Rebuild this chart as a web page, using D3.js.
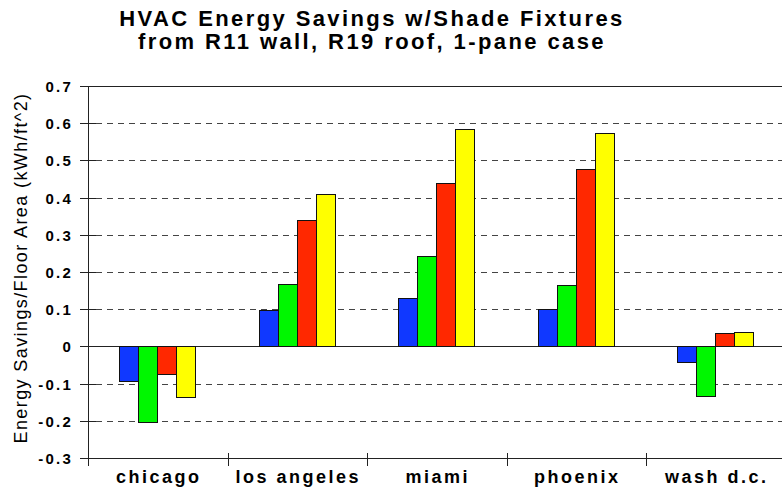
<!DOCTYPE html>
<meta charset="utf-8">
<style>
body { margin: 0; background: #fff; }
svg text { font-family: "Liberation Sans", Arial, sans-serif; fill: #000; }
.title { font-size: 22px; font-weight: bold; letter-spacing: 2.4px; }
.tick-label { font-size: 15px; font-weight: bold; letter-spacing: 2.2px; }
.cat-label { font-size: 18px; font-weight: bold; letter-spacing: 2.5px; }
.y-title { font-size: 18px; letter-spacing: 1.4px; }
.grid { stroke: #444; stroke-width: 1; stroke-dasharray: 6,5; shape-rendering: crispEdges; }
.axisline { stroke: #222; stroke-width: 1; shape-rendering: crispEdges; }
.bar { stroke: #111; stroke-width: 1; shape-rendering: crispEdges; }
</style>
<body>
<div id="chart"></div>
<script src="https://d3js.org/d3.v7.min.js"></script>
<script>

// data
var cities = ["chicago", "los angeles", "miami", "phoenix", "wash d.c."];
var series = ["s1", "s2", "s3", "s4"];
var s1 = [-0.095, 0.097, 0.128, 0.100, -0.044];
var s2 = [-0.205, 0.167, 0.242, 0.164, -0.134];
var s3 = [-0.075, 0.339, 0.439, 0.476, 0.034];
var s4 = [-0.138, 0.407, 0.582, 0.573, 0.038];
var colors = ["#1038ff", "#00f700", "#ff2800", "#ffff00"];
var yTicks = [0.7, 0.6, 0.5, 0.4, 0.3, 0.2, 0.1, 0, -0.1, -0.2, -0.3];
var yTickLabels = ["0.7", "0.6", "0.5", "0.4", "0.3", "0.2", "0.1", "0", "-0.1", "-0.2", "-0.3"];
var titleLines = ["HVAC Energy Savings w/Shade Fixtures", "from R11 wall, R19 roof, 1-pane case"];
var yTitle = "Energy Savings/Floor Area (kWh/ft^2)";

var values = [s1, s2, s3, s4];
var data = cities.map(function(c, i) {
    return { city: c, vals: series.map(function(s, j) { return { key: s, idx: j, v: values[j][i] }; }) };
});

var chartWidth = 782, chartHeight = 489;
var plotLeft = 88, plotRight = 785.5, plotTop = 86, plotBottom = 458;

var svg = d3.select("#chart").append("svg")
    .attr("width", chartWidth)
    .attr("height", chartHeight);

var x = d3.scaleBand()
    .domain(cities)
    .range([plotLeft, plotRight]);

var groupWidth = 76;
var x1 = d3.scaleBand()
    .domain(series)
    .range([0, groupWidth]);

var y = d3.scaleLinear()
    .domain([-0.3, 0.7])
    .range([plotBottom, plotTop]);

function yPix(d) { return Math.round(y(d)) + 0.5; }

// dashed grid
svg.append("g").selectAll("line")
    .data(yTicks.filter(function(t) { return t !== 0.7 && t !== 0 && t !== -0.3; }))
    .enter().append("line")
    .attr("class", "grid")
    .attr("x1", plotLeft + 8).attr("x2", chartWidth)
    .attr("y1", yPix)
    .attr("y2", yPix);

// solid top + zero line
svg.append("g").selectAll("line")
    .data([0.7, 0])
    .enter().append("line")
    .attr("class", "axisline")
    .attr("x1", plotLeft).attr("x2", chartWidth)
    .attr("y1", yPix)
    .attr("y2", yPix);

// bars
var groups = svg.append("g").selectAll("g")
    .data(data)
    .enter().append("g")
    .attr("transform", function(d) {
        return "translate(" + (x(d.city) + (x.bandwidth() - groupWidth) / 2) + ",0)";
    });

groups.selectAll("rect")
    .data(function(d) { return d.vals; })
    .enter().append("rect")
    .attr("class", "bar")
    .attr("x", function(d) { return x1(d.key); })
    .attr("width", x1.bandwidth())
    .attr("y", function(d) { return y(Math.max(0, d.v)); })
    .attr("height", function(d) { return Math.abs(y(d.v) - y(0)); })
    .attr("fill", function(d) { return colors[d.idx]; });

// y axis
svg.append("line")
    .attr("class", "axisline")
    .attr("x1", plotLeft + 0.5).attr("x2", plotLeft + 0.5)
    .attr("y1", plotTop).attr("y2", plotBottom + 8);

svg.append("g").selectAll("line")
    .data(yTicks)
    .enter().append("line")
    .attr("class", "axisline")
    .attr("x1", plotLeft - 8)
    .attr("x2", function(d) { return d === 0.7 ? plotLeft : plotLeft + 8; })
    .attr("y1", yPix)
    .attr("y2", yPix);

svg.append("g").selectAll("text")
    .data(yTicks)
    .enter().append("text")
    .attr("class", "tick-label")
    .attr("text-anchor", "end")
    .attr("x", plotLeft - 15)
    .attr("y", function(d) { return y(d) + 6; })
    .text(function(d, i) { return yTickLabels[i]; });

// x axis
svg.append("line")
    .attr("class", "axisline")
    .attr("x1", plotLeft).attr("x2", chartWidth)
    .attr("y1", yPix(-0.3)).attr("y2", yPix(-0.3));

svg.append("g").selectAll("line")
    .data(cities.slice(1))
    .enter().append("line")
    .attr("class", "axisline")
    .attr("x1", function(d) { return Math.round(x(d)) + 0.5; })
    .attr("x2", function(d) { return Math.round(x(d)) + 0.5; })
    .attr("y1", plotBottom - 5).attr("y2", plotBottom + 8);

svg.append("g").selectAll("text")
    .data(cities)
    .enter().append("text")
    .attr("class", "cat-label")
    .attr("text-anchor", "middle")
    .attr("x", function(d) { return x(d) + x.bandwidth() / 2 + 1; })
    .attr("y", 483)
    .text(function(d) { return d; });

// titles
svg.append("g").selectAll("text")
    .data(titleLines)
    .enter().append("text")
    .attr("class", "title")
    .attr("text-anchor", "middle")
    .attr("x", 372)
    .attr("y", function(d, i) { return 26 + i * 23; })
    .text(function(d) { return d; });

svg.append("text")
    .attr("class", "y-title")
    .attr("text-anchor", "middle")
    .attr("transform", "translate(27,268) rotate(-90)")
    .text(yTitle);

</script>
